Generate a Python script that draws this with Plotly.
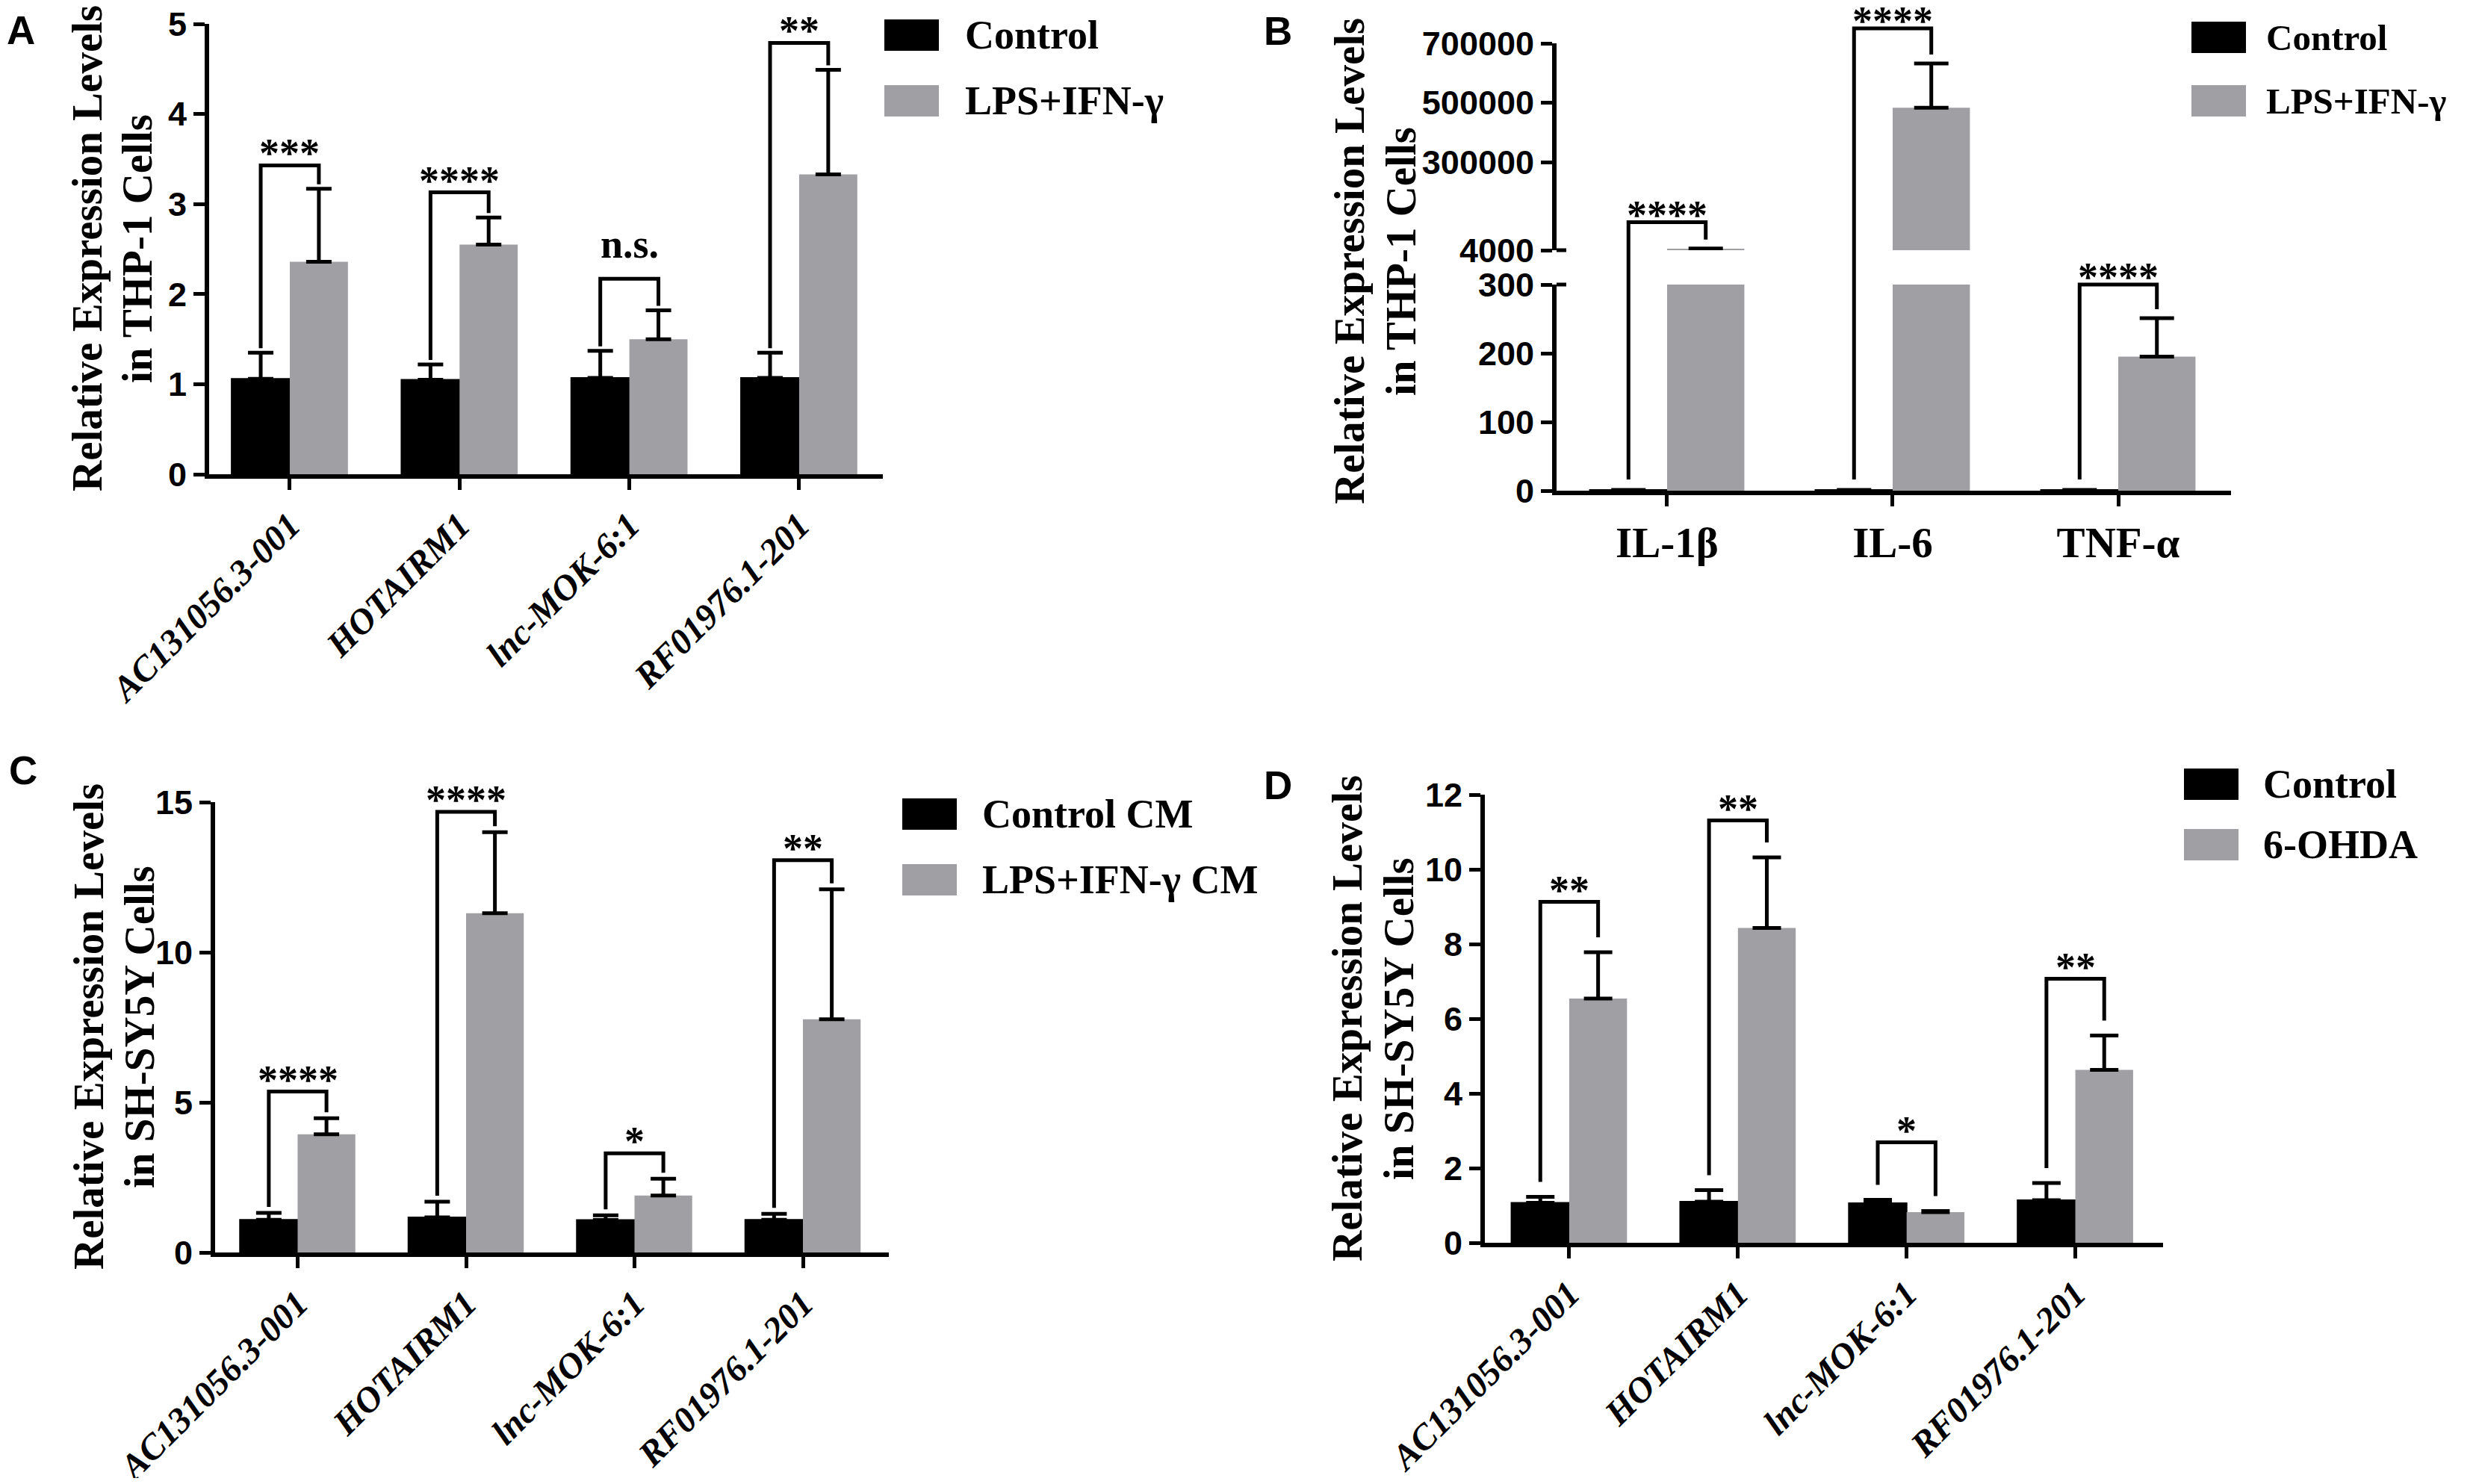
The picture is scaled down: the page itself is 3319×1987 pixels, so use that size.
import plotly.graph_objects as go

# ---------------- data ----------------
genes = ["AC131056.3-001", "HOTAIRM1", "lnc-MOK-6:1", "RF01976.1-201"]
cytokines = ["IL-1β", "IL-6", "TNF-α"]

# A: THP-1, lncRNAs
a_ctrl = [1.06, 1.05, 1.07, 1.07]
a_ctrl_sd = [0.29, 0.17, 0.30, 0.28]
a_lps = [2.36, 2.55, 1.50, 3.33]
a_lps_sd = [0.81, 0.30, 0.32, 1.16]
a_sig = ["***", "****", "n.s.", "**"]
a_top = [3.43, 3.13, 2.17, 4.79]

# B: THP-1, cytokines (broken axis)
b_ctrl = [1.0, 1.0, 1.0]
b_ctrl_sd = [0.0, 0.0, 0.0]
b_lps = [9000, 483000, 195]
b_lps_sd = [500, 149000, 56]
b_sig = ["****", "****", "****"]
b_top = [98000, 750000, 300]

# C: SH-SY5Y with conditioned medium
c_ctrl = [1.09, 1.17, 1.08, 1.09]
c_ctrl_sd = [0.23, 0.52, 0.16, 0.20]
c_cm = [3.94, 11.30, 1.90, 7.77]
c_cm_sd = [0.53, 2.70, 0.56, 4.33]
c_sig = ["****", "****", "*", "**"]
c_top = [5.36, 14.68, 3.30, 13.07]

# D: SH-SY5Y with 6-OHDA
d_ctrl = [1.07, 1.10, 1.06, 1.14]
d_ctrl_sd = [0.16, 0.31, 0.09, 0.46]
d_ohda = [6.54, 8.43, 0.82, 4.63]
d_ohda_sd = [1.24, 1.89, 0.03, 0.92]
d_sig = ["**", "**", "*", "**"]
d_top = [9.13, 11.31, 2.69, 7.07]

# ---------------- page geometry ----------------
W, H, M = 3319, 1987, 8
FW, FH = W - 2 * M, H - 2 * M


def px_x(X):
    return (X - M) / FW


def px_y(Y):
    return 1 - (Y - M) / FH


BLACK, GREY = "#000000", "#a0a0a4"
SERIF = "Liberation Serif, Times New Roman, serif"
SANS = "Liberation Sans, Arial, sans-serif"
BARGAP = 0.315
HALF = (1 - BARGAP) / 4

# broken axis rows for panel B (reference pixels)
B_AXIS_X = 2084
B_ZERO, B_LO_TOP, B_HI_BOT, B_HI_TOP = 657, 381, 335, 58
LO_MAX, HI_MIN, HI_MAX = 300, 4000, 700000


def b_px(v):
    """height above the zero line of panel B for value v"""
    if v <= LO_MAX:
        return v / LO_MAX * (B_ZERO - B_LO_TOP)
    return (B_ZERO - B_HI_BOT) + (v - HI_MIN) / (HI_MAX - HI_MIN) * (B_HI_BOT - B_HI_TOP)


fig = go.Figure()


def add_bars(xa, ya, ctrl, ctrl_sd, trt, trt_sd, cap):
    n = len(ctrl)
    for vals, sd, col, grp in [(ctrl, ctrl_sd, BLACK, "c"), (trt, trt_sd, GREY, "t")]:
        fig.add_trace(go.Bar(
            x=list(range(n)), y=vals, xaxis=xa, yaxis=ya, offsetgroup=grp,
            marker=dict(color=col, line=dict(color=col, width=2 if col == BLACK else 0)),
            error_y=dict(type="data", array=sd, arrayminus=[0] * n, symmetric=False,
                         color="black", thickness=5, width=cap),
            showlegend=False, hoverinfo="skip"))


def add_brackets(xa, ya, left_lo, right_lo, tops, sig, shift):
    xs, ys = [], []
    for i in range(len(tops)):
        xs += [i - HALF, i - HALF, i + HALF, i + HALF, None]
        ys += [left_lo[i], tops[i], tops[i], right_lo[i], None]
        # asterisks float high in the em box, "n.s." sits on the baseline
        dy = shift if "*" in sig[i] else shift + 30
        fig.add_annotation(x=i, y=tops[i], xref=xa, yref=ya, text=sig[i], showarrow=False,
                           yanchor="bottom", yshift=dy,
                           font=dict(family=SERIF, size=54, color="black", weight="bold"))
    fig.add_trace(go.Scatter(x=xs, y=ys, xaxis=xa, yaxis=ya, mode="lines",
                             line=dict(color="black", width=5), showlegend=False, hoverinfo="skip"))


# A
add_bars("x", "y", a_ctrl, a_ctrl_sd, a_lps, a_lps_sd, 17)
gA = 6 / 120.6
add_brackets("x", "y", [m + s + gA for m, s in zip(a_ctrl, a_ctrl_sd)],
             [m + s + gA for m, s in zip(a_lps, a_lps_sd)], a_top, a_sig, -16)

# B: lower part keeps bars up to the break, upper part only the values above it
lo = lambda v, s: 0 if v > LO_MAX else s
add_bars("x2", "y2", b_ctrl, [lo(v, s) for v, s in zip(b_ctrl, b_ctrl_sd)],
         b_lps, [lo(v, s) for v, s in zip(b_lps, b_lps_sd)], 23)
hi = lambda v: v if v > HI_MIN else None
add_bars("x2", "y3", [hi(v) for v in b_ctrl], [0] * 3,
         [hi(v) for v in b_lps], [s if v > HI_MIN else 0 for v, s in zip(b_lps, b_lps_sd)], 23)
add_brackets("x2", "y4", [b_px(m + s) + 14 for m, s in zip(b_ctrl, b_ctrl_sd)],
             [b_px(m + s) + 12 for m, s in zip(b_lps, b_lps_sd)],
             [b_px(t) for t in b_top], b_sig, -22)
# break marks: the ticks on both sides of the gap cross the axis line
for v in (LO_MAX, HI_MIN):
    fig.add_shape(type="line", xref="paper", yref="y4", x0=px_x(B_AXIS_X), x1=px_x(B_AXIS_X + 13),
                  y0=b_px(v), y1=b_px(v), line=dict(color="black", width=5))

# C
add_bars("x3", "y5", c_ctrl, c_ctrl_sd, c_cm, c_cm_sd, 17)
gC = 8 / 40.2
add_brackets("x3", "y5", [m + s + gC for m, s in zip(c_ctrl, c_ctrl_sd)],
             [m + s + gC for m, s in zip(c_cm, c_cm_sd)], c_top, c_sig, -16)

# D
add_bars("x4", "y6", d_ctrl, d_ctrl_sd, d_ohda, d_ohda_sd, 19)
gD = 20 / 50.0
add_brackets("x4", "y6", [m + s + gD for m, s in zip(d_ctrl, d_ctrl_sd)],
             [m + s + gD for m, s in zip(d_ohda, d_ohda_sd)], d_top, d_sig, -16)

# ---------------- axes ----------------
axis_style = dict(showline=True, linecolor="black", linewidth=6, ticks="outside", ticklen=15,
                  tickwidth=5, tickcolor="black", showgrid=False, zeroline=False, fixedrange=True,
                  automargin=False, ticklabeloverflow="allow")
ytick_font = dict(family=SANS, size=45, color="black", weight="bold")
gene_font = dict(family=SERIF, size=48, color="black", weight="bold", style="italic")


def yticks(vals):
    return dict(tickvals=vals, ticktext=[str(v) for v in vals], tickfont=ytick_font)


fig.update_layout(
    xaxis=dict(axis_style, domain=[px_x(280), px_x(1182)], range=[-0.475, 3.493], anchor="y",
               tickvals=list(range(4)), ticktext=genes, tickangle=-45, tickfont=gene_font),
    yaxis=dict(axis_style, domain=[px_y(635), px_y(32)], range=[0, 5.001], anchor="x",
               **yticks([0, 1, 2, 3, 4, 5])),
    xaxis2=dict(axis_style, domain=[px_x(B_AXIS_X), px_x(2987)], range=[-0.49, 2.5], anchor="y2",
                tickvals=list(range(3)), ticktext=cytokines, tickangle=0,
                tickfont=dict(family=SERIF, size=57, color="black", weight="bold")),
    yaxis2=dict(axis_style, domain=[px_y(B_ZERO), px_y(B_LO_TOP)], range=[0, LO_MAX], anchor="x2",
                **yticks([0, 100, 200, 300])),
    yaxis3=dict(axis_style, domain=[px_y(B_HI_BOT), px_y(B_HI_TOP)], range=[HI_MIN, HI_MAX], anchor="x2",
                **yticks([4000, 300000, 500000, 700000])),
    yaxis4=dict(domain=[px_y(B_ZERO), 1], range=[0, B_ZERO - M], anchor="x2", visible=False,
                fixedrange=True, automargin=False),
    xaxis3=dict(axis_style, domain=[px_x(288), px_x(1190)], range=[-0.49, 3.51], anchor="y5",
                tickvals=list(range(4)), ticktext=genes, tickangle=-45, tickfont=gene_font),
    yaxis5=dict(axis_style, domain=[px_y(1677), px_y(1074)], range=[0, 15.003], anchor="x3",
                **yticks([0, 5, 10, 15])),
    xaxis4=dict(axis_style, domain=[px_x(1988), px_x(2896)], range=[-0.5, 3.52], anchor="y6",
                tickvals=list(range(4)), ticktext=genes, tickangle=-45, tickfont=gene_font),
    yaxis6=dict(axis_style, domain=[px_y(1664), px_y(1064)], range=[0, 12.002], anchor="x4",
                **yticks([0, 2, 4, 6, 8, 10, 12])),
)

# ---------------- titles, legends, panel letters ----------------
title_font = dict(family=SERIF, size=57, color="black", weight="bold")
y_titles = [
    ("Relative Expression Levels", "in THP-1 Cells", 117, 184, 333),
    ("Relative Expression Levels", "in THP-1 Cells", 1806, 1875, 350),
    ("Relative Expression Levels", "in SH-SY5Y Cells", 118, 186, 1375),
    ("Relative Expression Levels", "in SH-SY5Y Cells", 1803, 1872, 1364),
]
for l1, l2, x1, x2, yc in y_titles:
    for txt, xx in [(l1, x1), (l2, x2)]:
        fig.add_annotation(x=px_x(xx), y=px_y(yc), xref="paper", yref="paper", text=txt,
                           textangle=-90, showarrow=False, xanchor="center", yanchor="middle",
                           font=title_font)

legends = [
    (["Control", "LPS+IFN-γ"], 1184, 47, 135, 1290, 54),
    (["Control", "LPS+IFN-γ"], 2934, 50, 135, 3032, 49),
    (["Control CM", "LPS+IFN-γ CM"], 1208, 1090, 1178, 1313, 54),
    (["Control", "6-OHDA"], 2924, 1050, 1131, 3028, 54),
]
for names, bx, y1, y2, tx, fs in legends:
    for name, yy, col in [(names[0], y1, BLACK), (names[1], y2, GREY)]:
        fig.add_shape(type="rect", xref="paper", yref="paper", x0=px_x(bx), x1=px_x(bx + 73),
                      y0=px_y(yy + 21), y1=px_y(yy - 21), fillcolor=col, line=dict(width=0))
        fig.add_annotation(x=px_x(tx), y=px_y(yy), xref="paper", yref="paper", text=name,
                           showarrow=False, xanchor="left", yanchor="middle",
                           font=dict(family=SERIF, size=fs, color="black", weight="bold"))

for letter, lx, ly in [("A", 7, 9), ("B", 1690, 10), ("C", 10, 1000), ("D", 1690, 1020)]:
    fig.add_annotation(x=px_x(lx), y=px_y(ly), xref="paper", yref="paper", text=letter,
                       showarrow=False, xanchor="left", yanchor="top",
                       font=dict(family=SANS, size=53, color="black", weight="bold"))

fig.update_layout(
    width=FW, height=FH, margin=dict(l=0, r=0, t=0, b=0, autoexpand=False),
    paper_bgcolor="white", plot_bgcolor="rgba(0,0,0,0)",
    barmode="group", bargap=BARGAP, bargroupgap=0, showlegend=False,
)

fig.write_html("out.html")
